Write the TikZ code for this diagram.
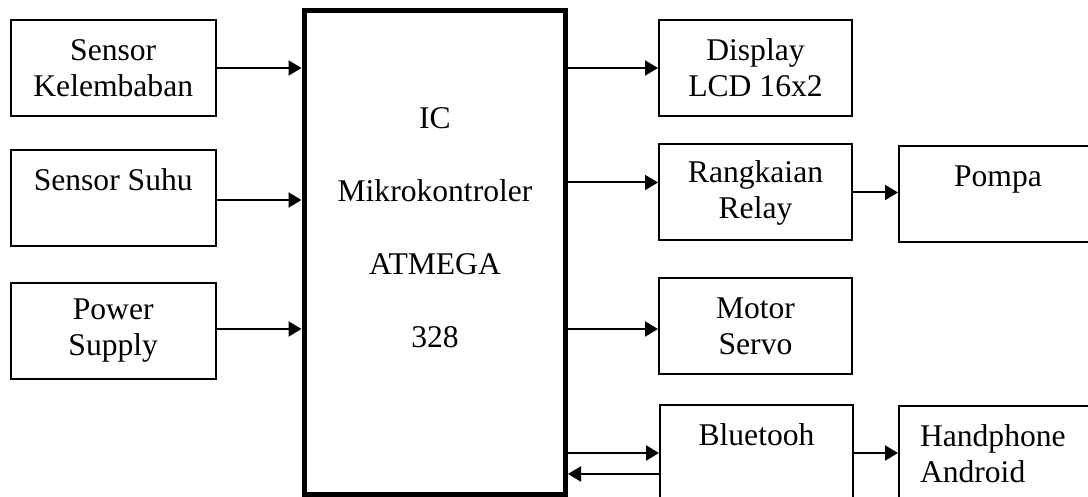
\documentclass[tikz,border=0pt]{standalone}
\usepackage{fontspec}
\setmainfont{Liberation Serif}
\usetikzlibrary{arrows.meta,calc}

\begin{document}
\begin{tikzpicture}[x=0.5pt,y=-0.5pt,
  blok/.style={draw,line width=1pt,minimum height=48pt,align=center,
    inner sep=2pt,font=\fontsize{15.8}{18}\selectfont},
  kiri/.style={blok,minimum width=102.75pt},
  kanan/.style={blok,minimum width=96.5pt},
  panah/.style={line width=1pt,-{Triangle[length=6.5pt,width=7.5pt]}}]
\useasboundingbox (0,0) rectangle (1088,497);
\clip (0,0) rectangle (1088,497);

% masukan
\node[kiri] (kelembaban) at (113.25,68) {Sensor\\Kelembaban};
\node[kiri] (suhu) at (113.25,198) {Sensor Suhu\\\mbox{}};
\node[kiri] (power) at (113.25,331) {Power\\Supply};

% mikrokontroler
\node[draw,line width=2.5pt,minimum width=130.75pt,minimum height=242pt]
  (mcu) at (434.75,252.5) {};
\node[align=center,font=\fontsize{15.8}{18}\selectfont] (mcuteks) at (435,228)
  {IC\\[18.5pt]Mikrokontroler\\[18.5pt]ATMEGA\\[18.5pt]328};

% keluaran
\node[kanan] (lcd) at (755.5,68) {Display\\LCD 16x2};
\node[kanan] (relay) at (755.5,192.5) {Rangkaian\\Relay};
\node[kanan] (servo) at (755.5,326) {Motor\\Servo};
\node[kanan] (bt) at (756.5,453) {Bluetooh\\\mbox{}};
\node[blok,minimum width=99pt] (pompa) at (998,194.5) {Pompa\\\mbox{}};
\node[blok,align=left,text width=78pt,inner xsep=10.5pt] (hp) at (998,454)
  {Handphone\\Android};

% panah
\draw[panah] (kelembaban.east) -- (kelembaban.east -| mcu.west);
\draw[panah] ([yshift=-1pt]suhu.east) -- ([yshift=-1pt]suhu.east -| mcu.west);
\draw[panah] ([yshift=1pt]power.east) -- ([yshift=1pt]power.east -| mcu.west);

\draw[panah] (lcd.west -| mcu.east) -- (lcd.west);
\draw[panah] ([yshift=5pt]relay.west -| mcu.east) -- ([yshift=5pt]relay.west);
\draw[panah] ([yshift=-1.5pt]servo.west -| mcu.east) -- ([yshift=-1.5pt]servo.west);
\draw[panah] (bt.west -| mcu.east) -- (bt.west);
\draw[panah] ([yshift=-10.5pt]bt.west) -- ([yshift=-10.5pt]bt.west -| mcu.east);

\draw[panah] (relay.east) -- (relay.east -| pompa.west);
\draw[panah] (bt.east) -- (bt.east -| hp.west);
\end{tikzpicture}
\end{document}
